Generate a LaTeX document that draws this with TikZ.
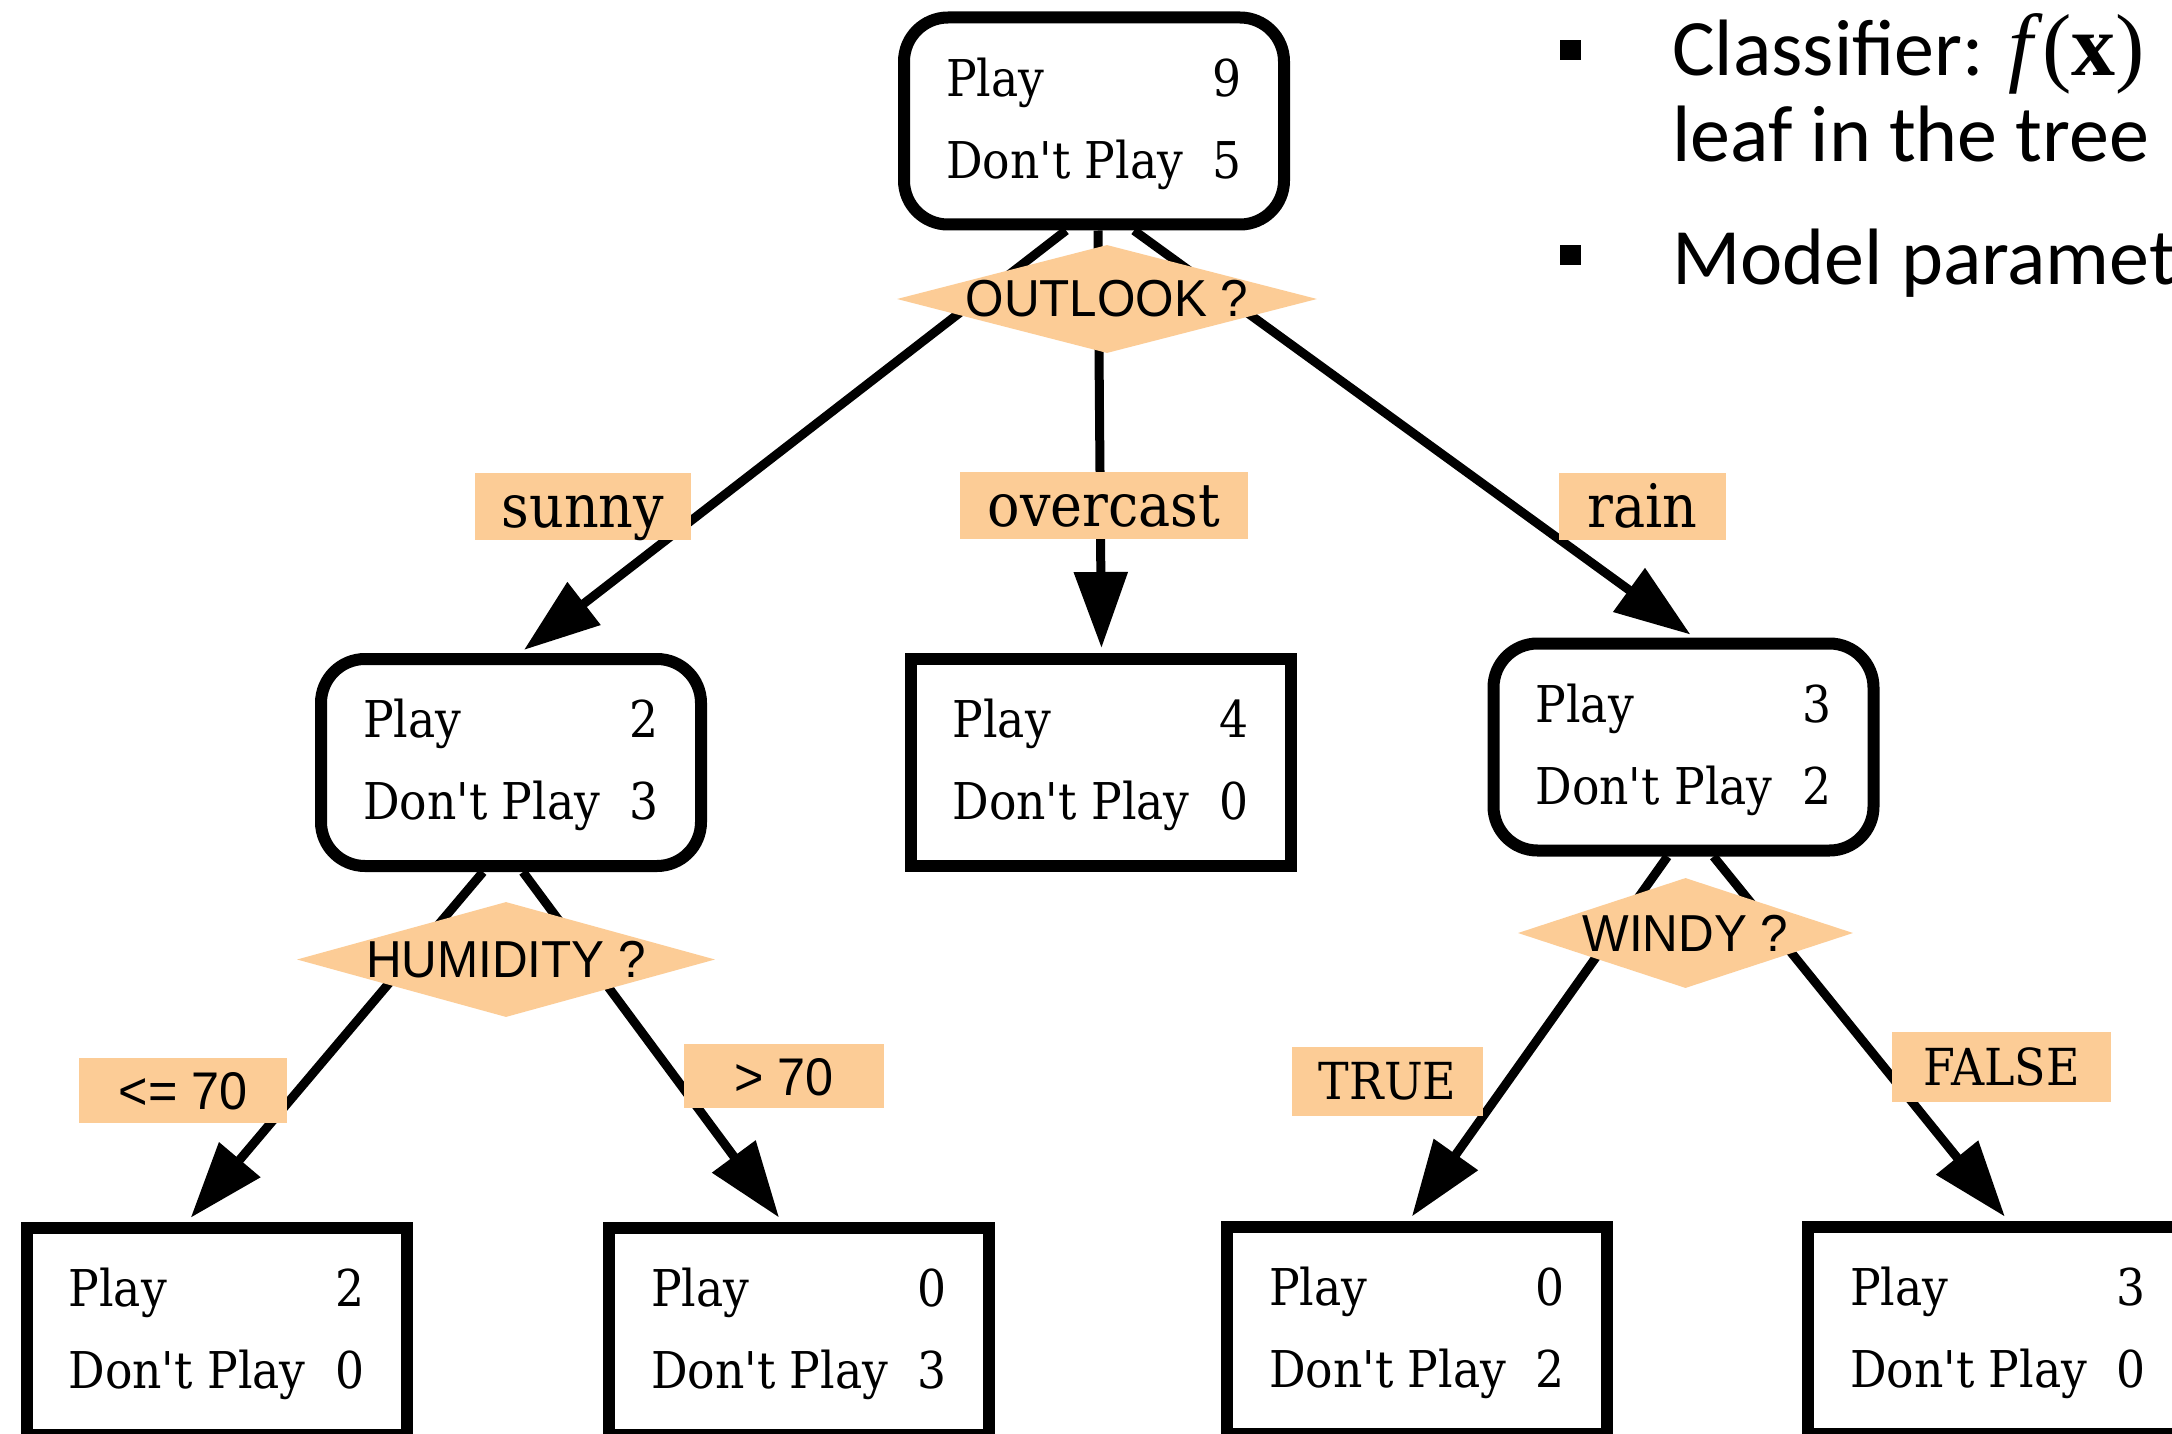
\documentclass[tikz,border=0pt]{standalone}
\usepackage{fontspec}
\usetikzlibrary{arrows.meta,shapes.geometric,calc}
\newfontfamily\tallyfont[FakeStretch=0.9,Ligatures=TeXOff]{DejaVu Serif}
\newfontfamily\testfont[FakeStretch=0.95]{Liberation Sans}
\newfontfamily\notefont{Carlito}
\newfontfamily\formulafont{Liberation Serif}
\definecolor{peach}{RGB}{252,204,150}
% two-row class count table used inside every box
\newcommand\tally[2]{\begin{tabular}{@{}l@{}}\makebox[296pt][s]{Play\hfill #1}\\\makebox[296pt][s]{Don't Play\hfill #2}\end{tabular}}
% the classifier symbol f(x)
\newcommand\fofx{{\formulafont\fontsize{88pt}{96pt}\selectfont\itshape f\/\upshape(\textbf{x})}}
\begin{document}
\begin{tikzpicture}[x=1pt,y=-1pt,
  tallybox/.style={draw,line width=12pt,rounded corners=44pt,fill=white,
    minimum width=380pt,minimum height=207pt,inner sep=0pt,
    font=\tallyfont\fontsize{50.7pt}{82pt}\selectfont},
  leafbox/.style={tallybox,sharp corners,line join=miter},
  test/.style={diamond,fill=peach,inner sep=0pt},
  testtext/.style={inner sep=0pt,font=\testfont\fontsize{52pt}{60pt}\selectfont},
  cond/.style={fill=peach,inner sep=0pt,minimum height=67pt,text height=42pt,text depth=0pt,
    font=\tallyfont\fontsize{60pt}{60pt}\selectfont},
  smallcond/.style={cond,text height=36pt,font=\tallyfont\fontsize{51pt}{60pt}\selectfont},
  numcond/.style={cond,text height=38pt,font=\testfont\fontsize{53pt}{60pt}\selectfont},
  flow/.style={line width=9pt,-{Triangle[length=76pt,width=52pt]},shorten >=5pt},
  note/.style={anchor=base west,inner sep=0pt,font=\notefont\fontsize{80pt}{96pt}\selectfont},
  square/.style={fill=black,minimum width=21pt,minimum height=20pt,inner sep=0pt}]
\useasboundingbox (0,0) rectangle (2172,1434);
\clip (0,0) rectangle (2172,1434);
\fill[white] (0,0) rectangle (2172,1434);

% boxes with class counts
\node[tallybox] (root) at (1094,121) {\tally{9}{5}};
\node[tallybox] (sunnybox) at (511,762.5) {\tally{2}{3}};
\node[leafbox] (overcastbox) at (1100.5,762.5) {\tally{4}{0}};
\node[tallybox] (rainbox) at (1683.5,747) {\tally{3}{2}};
\node[leafbox] (lowhum) at (216.5,1331) {\tally{2}{0}};
\node[leafbox] (highhum) at (799,1331) {\tally{0}{3}};
\node[leafbox] (windyleaf) at (1417,1330) {\tally{0}{2}};
\node[leafbox] (calmleaf) at (1998,1330) {\tally{3}{0}};

% branches
\draw[flow] ($(root.south)+(-28,0)$) -- ($(sunnybox.north)+(9,0)$);
\draw[flow] ($(root.south)+(4,0)$) -- ($(overcastbox.north)+(1,0)$);
\draw[flow] ($(root.south)+(40,0)$) -- ($(rainbox.north)+(11,0)$);
\draw[flow] ($(sunnybox.south)+(-28,0)$) -- ($(lowhum.north)+(-29,0)$);
\draw[flow] ($(sunnybox.south)+(12,0)$) -- ($(highhum.north)+(-17,0)$);
\draw[flow] ($(rainbox.south)+(-16,0)$) -- ($(windyleaf.north)+(-8,0)$);
\draw[flow] ($(rainbox.south)+(30,0)$) -- ($(calmleaf.north)+(10,0)$);

% attribute tests
\node[test,minimum width=420pt,minimum height=108pt] (outlook) at (1107,299) {};
\node[testtext] (outlooktxt) at (outlook) {OUTLOOK ?};
\node[test,minimum width=418pt,minimum height=115pt] (humidity) at (506,959.5) {};
\node[testtext] (humiditytxt) at (humidity) {HUMIDITY ?};
\node[test,minimum width=335pt,minimum height=110pt] (windy) at (1685.5,933) {};
\node[testtext] (windytxt) at (windy) {WINDY ?};

% branch values
\node[cond,minimum width=216pt] (sunny) at (583,506.5) {sunny};
\node[cond,minimum width=288pt] (overcast) at (1104,505.5) {overcast};
\node[cond,minimum width=167pt] (rain) at (1642.5,506.5) {rain};
\node[numcond,minimum width=208pt,minimum height=65pt] (le70) at (183,1090.5) {<= 70};
\node[numcond,minimum width=200pt,minimum height=64pt] (gt70) at (784,1076) {> 70};
\node[smallcond,minimum width=191pt,minimum height=69pt] (true) at (1387.5,1081.5) {TRUE};
\node[smallcond,minimum width=219pt,minimum height=70pt] (false) at (2001.5,1067) {FALSE};

% bullet notes
\node[square] (dot1) at (1570,50) {};
\node[square] (dot2) at (1570,255) {};
\node[note] (line1) at (1672,76) {Classifier: \fofx};
\node[note] (line2) at (1672,162) {leaf in the tree};
\node[note] (line3) at (1672,284) {Model paramet};
\end{tikzpicture}
\end{document}
